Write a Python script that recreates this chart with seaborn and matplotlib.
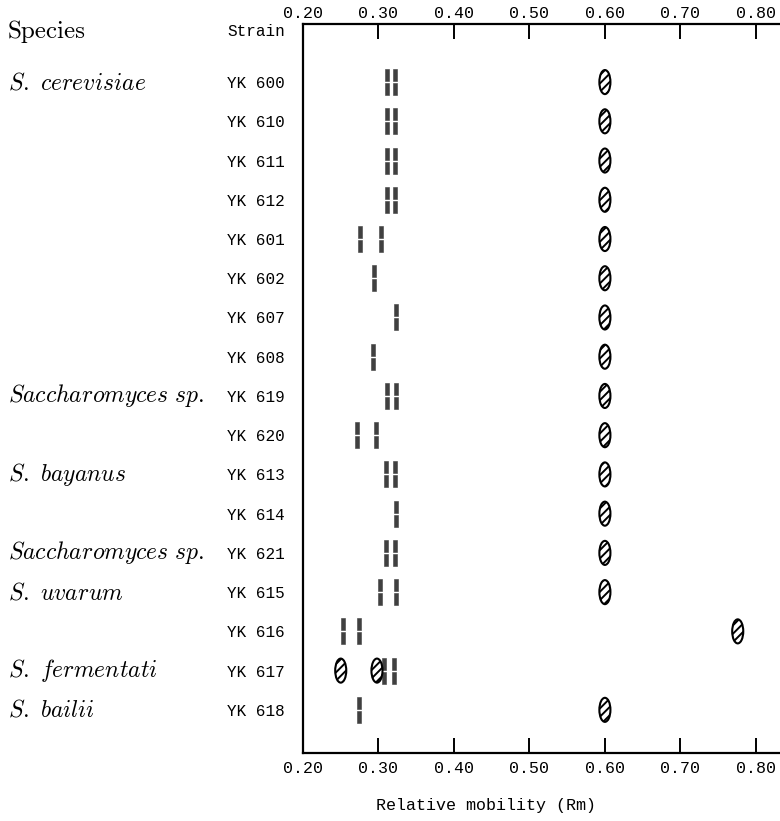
import matplotlib
matplotlib.use("Agg")
import matplotlib.pyplot as plt
from matplotlib.path import Path
from matplotlib.transforms import Affine2D, blended_transform_factory
import numpy as np
import pandas as pd
import seaborn as sns

# Strains (rows, top to bottom) and the species label shown on that row
strains = ['YK 600', 'YK 610', 'YK 611', 'YK 612', 'YK 601', 'YK 602', 'YK 607',
           'YK 608', 'YK 619', 'YK 620', 'YK 613', 'YK 614', 'YK 621', 'YK 615',
           'YK 616', 'YK 617', 'YK 618']
species = ['S. cerevisiae', '', '', '', '', '', '', '',
           'Saccharomyces sp.', '', 'S. bayanus', '', 'Saccharomyces sp.',
           'S. uvarum', '', 'S. fermentati', 'S. bailii']

# Dark bands (Rm) per strain
band_rm = [[0.311, 0.322], [0.311, 0.322], [0.311, 0.322], [0.311, 0.322],
           [0.275, 0.303], [0.294], [0.323], [0.293],
           [0.311, 0.323], [0.271, 0.297], [0.310, 0.322], [0.323],
           [0.310, 0.322], [0.302, 0.323], [0.253, 0.274], [0.307, 0.320],
           [0.274]]
# Hatched spots (Rm) per strain
spot_rm = [[0.600], [0.600], [0.600], [0.600], [0.600], [0.600], [0.600],
           [0.600], [0.600], [0.600], [0.600], [0.600], [0.600], [0.600],
           [0.776], [0.250, 0.298], [0.600]]

xticks = [0.20, 0.30, 0.40, 0.50, 0.60, 0.70, 0.80]

bands = pd.DataFrame([{'row': i, 'rm': v} for i, vals in enumerate(band_rm) for v in vals])
spots = pd.DataFrame([{'row': i, 'rm': v} for i, vals in enumerate(spot_rm) for v in vals])

# marker shapes: a band is two short stacked bars, a spot is a tall ellipse
band_path = Path.make_compound_path(
    Path([(-0.08, 0.05), (0.08, 0.05), (0.08, 0.5), (-0.08, 0.5), (-0.08, 0.05)],
         [Path.MOVETO, Path.LINETO, Path.LINETO, Path.LINETO, Path.CLOSEPOLY]),
    Path([(-0.08, -0.5), (0.08, -0.5), (0.08, -0.05), (-0.08, -0.05), (-0.08, -0.5)],
         [Path.MOVETO, Path.LINETO, Path.LINETO, Path.LINETO, Path.CLOSEPOLY]))
spot_path = Path.unit_circle().transformed(Affine2D().scale(0.46, 1.0))

mono = 'Liberation Mono'
plt.rcParams['mathtext.fontset'] = 'cm'
plt.rcParams['hatch.linewidth'] = 1.4

fig = plt.figure(figsize=(7.8, 8.21), dpi=100)
ax = fig.add_axes([303 / 780, 1 - 753 / 821, 477 / 780, 729 / 821])

sns.scatterplot(data=bands, x='rm', y='row', marker=band_path, s=330,
                color='#404040', edgecolor='#404040', linewidth=0.4,
                legend=False, ax=ax)
sns.scatterplot(data=spots, x='rm', y='row', marker=spot_path, s=300,
                color='black', facecolor='none', edgecolor='black',
                linewidth=1.5, hatch='////', legend=False, ax=ax)

ax.set_xlim(0.20, 0.832)
ax.set_ylim(17.1, -1.48)
ax.spines['right'].set_visible(False)
for sp in ['left', 'top', 'bottom']:
    ax.spines[sp].set_linewidth(1.6)

ax.set_xticks(xticks)
ax.set_xticklabels([f'{t:.2f}' for t in xticks], fontfamily=mono, fontsize=12)
ax.tick_params(axis='x', direction='in', length=11, width=1.4,
               top=False, bottom=True, labelbottom=True, pad=6)

# top axis with its own (tighter) label padding
top = ax.secondary_xaxis('top')
top.set_xticks(xticks)
top.set_xticklabels([f'{t:.2f}' for t in xticks], fontfamily=mono, fontsize=12)
top.tick_params(direction='in', length=11, width=1.4, pad=2)
top.spines['top'].set_visible(False)

ax.set_yticks(range(len(strains)))
ax.set_yticklabels(strains, fontfamily=mono, fontsize=11.5)
ax.tick_params(axis='y', length=0, pad=13)

ax.set_xlabel('Relative mobility (Rm)', fontfamily=mono, fontsize=12)
ax.xaxis.set_label_coords(0.384, -0.062)
ax.set_ylabel('')

# column headers and species names
fig.text(8 / 780, 1 - 32 / 821, 'Species', fontfamily='cmr10', fontsize=18,
         va='center', ha='left')
fig.text(227 / 780, 1 - 32 / 821, 'Strain', fontfamily=mono, fontsize=11.5,
         va='center', ha='left')
trans = blended_transform_factory(fig.transFigure, ax.transData)
for i, name in enumerate(species):
    if name:
        ax.text(8 / 780, i, r'$\mathit{' + name.replace(' ', r'\ ') + '}$',
                transform=trans, fontsize=17, va='center', ha='left')

fig.savefig('out.png', dpi=100)
